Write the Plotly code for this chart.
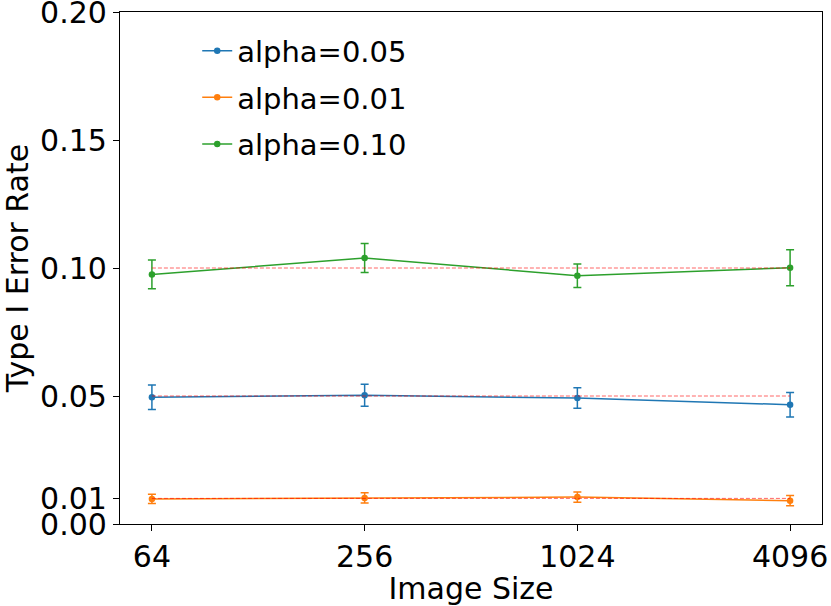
import plotly.graph_objects as go
import numpy as np

image_sizes = [64, 256, 1024, 4096]
size_labels = ["64", "256", "1024", "4096"]

alpha_labels = ["alpha=0.05", "alpha=0.01", "alpha=0.10"]
alpha_levels = [0.05, 0.01, 0.10]

rate_005 = [0.0495, 0.0503, 0.0492, 0.0466]
err_005 = [0.0048, 0.0043, 0.0040, 0.0048]
rate_001 = [0.0098, 0.0102, 0.0105, 0.0091]
err_001 = [0.0018, 0.0020, 0.0020, 0.0020]
rate_010 = [0.0975, 0.1039, 0.0970, 0.1001]
err_010 = [0.0056, 0.0057, 0.0046, 0.0070]

y_ticks = [0.00, 0.01, 0.05, 0.10, 0.15, 0.20]
y_tick_labels = ["0.00", "0.01", "0.05", "0.10", "0.15", "0.20"]

colors = ["#1f77b4", "#ff7f0e", "#2ca02c"]
rates = [rate_005, rate_001, rate_010]
errs = [err_005, err_001, err_010]

fig = go.Figure()
for i, (lab, r, e, c) in enumerate(zip(alpha_labels, rates, errs, colors)):
    fig.add_trace(go.Scatter(
        x=image_sizes, y=r, name=lab, mode="lines+markers",
        legendgroup=f"g{i}",
        line=dict(color=c, width=1.5),
        marker=dict(color=c, size=6.5),
        error_y=dict(type="data", array=e, visible=True, color=c, thickness=1.5, width=4),
    ))
for a in alpha_levels:
    fig.add_trace(go.Scatter(
        x=[image_sizes[0], image_sizes[-1]], y=[a, a], mode="lines",
        line=dict(color="rgba(255,0,0,0.6)", width=1, dash="4px,2px"),
        showlegend=False, hoverinfo="skip",
    ))

lo, hi = np.log10(image_sizes[0]), np.log10(image_sizes[-1])
pad = 0.05 * (hi - lo)

font = dict(family="DejaVu Sans", size=30, color="black")
fig.update_layout(
    width=831, height=606,
    margin=dict(l=120, r=9, t=12, b=82),
    plot_bgcolor="white", paper_bgcolor="white",
    font=font,
    showlegend=True,
    legend=dict(x=0.11, y=0.974, xanchor="left", yanchor="top",
                bgcolor="rgba(0,0,0,0)", font=dict(family="DejaVu Sans", size=29, color="black"),
                tracegroupgap=6),
    xaxis=dict(type="log", range=[lo - pad, hi + pad], tickvals=image_sizes, ticktext=size_labels,
               showline=True, mirror=True, linecolor="black", linewidth=1.3,
               ticks="outside", ticklen=6, tickwidth=1.3, tickcolor="black",
               showgrid=False, zeroline=False, automargin=False, ticklabeloverflow="allow",
               ticklabelstandoff=0,
               tickfont=font,
               title=dict(text="Image Size", font=font, standoff=2)),
    yaxis=dict(range=[0, 0.2], tickvals=y_ticks, ticktext=y_tick_labels,
               showline=True, mirror=True, linecolor="black", linewidth=1.3,
               ticks="outside", ticklen=6, tickwidth=1.3, tickcolor="black",
               showgrid=False, zeroline=False, automargin=False, ticklabeloverflow="allow",
               tickfont=font,
               title=dict(text="Type I Error Rate", font=font, standoff=8)),
)
fig.write_html("out.html", config={"displayModeBar": False},
               post_script="document.body.style.margin='0';")
